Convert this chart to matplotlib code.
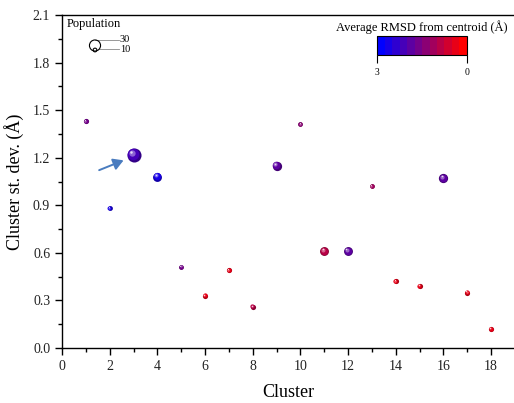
import numpy as np
import matplotlib
matplotlib.use("Agg")
import matplotlib.pyplot as plt
from matplotlib.colors import LinearSegmentedColormap, Normalize, to_rgb
from matplotlib.cm import ScalarMappable
from matplotlib.transforms import offset_copy

# ---- data ------------------------------------------------------------------
cluster = [1, 2, 3, 4, 5, 6, 7, 8, 9, 10, 11, 12, 13, 14, 15, 16, 17, 18]
stdev = [1.43, 0.88, 1.22, 1.08, 0.51, 0.33, 0.49, 0.26, 1.15, 1.41,
         0.61, 0.61, 1.02, 0.42, 0.39, 1.07, 0.35, 0.12]
population = [14, 13, 38, 24, 13, 14, 14, 14, 25, 13, 24, 24, 13, 14, 14, 25, 14, 14]
rmsd = [1.5, 2.7, 2.15, 2.6, 1.7, 0.3, 0.3, 0.9, 1.85, 1.45,
        0.8, 1.8, 1.1, 0.3, 0.4, 1.85, 0.3, 0.35]
legend_pop = [30, 10]

plt.rcParams.update({"font.family": ["Liberation Serif", "DejaVu Serif"]})

W, H = 514, 403
fig = plt.figure(figsize=(W / 100, H / 100), dpi=100)
ax = fig.add_axes([62 / W, 1 - 348 / H, 453 / W, 333 / H])

cmap = LinearSegmentedColormap.from_list("rb", ["#ff0000", "#0000ff"], N=12)
norm = Normalize(0, 3)

PX_PER_POP = 0.37   # bubble diameter (px) per population unit


def sphere(x, y, d_px, col):
    """Fake a shaded ball with a few stacked, offset discs."""
    d = d_px * 0.72
    c = np.array(to_rgb(col))
    layers = [(1.00, c * 0.72, 0.00, 0.00),
              (0.82, c, -0.06, 0.06),
              (0.45, c + (1 - c) * 0.38, -0.14, 0.14),
              (0.18, c + (1 - c) * 0.85, -0.19, 0.21)]
    for k, (f, cc, ox, oy) in enumerate(layers):
        tr = offset_copy(ax.transData, fig=fig, x=ox * d, y=oy * d, units="points")
        ax.scatter([x], [y], s=(d * f) ** 2, color=[np.clip(cc, 0, 1)],
                   lw=0, transform=tr, zorder=3 + k)


for x, y, p, r in zip(cluster, stdev, population, rmsd):
    sphere(x, y, p * PX_PER_POP, cmap(norm(r)))

# arrow pointing at cluster 3
ax.annotate("", xy=(2.69, 1.19), xytext=(1.45, 1.115),
            arrowprops=dict(arrowstyle="-|>,head_length=0.6,head_width=0.35",
                            color="#4a7cbf", lw=1.4), zorder=10)

ax.set_xlim(0, 19)
ax.set_ylim(0, 2.1)
ax.set_xticks(np.arange(0, 19, 2))
ax.set_xticks(np.arange(0, 19, 1), minor=True)
ax.set_yticks(np.arange(0, 2.11, 0.3))
ax.set_yticks(np.arange(0, 2.11, 0.15), minor=True)
ax.yaxis.set_major_formatter(plt.FormatStrFormatter("%.1f"))
ax.tick_params(which="major", direction="out", length=5, width=1, labelsize=10,
               labelcolor="#222222")
ax.tick_params(which="minor", direction="out", length=3, width=1)
for s in ax.spines.values():
    s.set_linewidth(1.0)
ax.spines["right"].set_visible(False)
ax.set_xlabel("Cluster", fontsize=13, labelpad=8)
ax.set_ylabel("Cluster st. dev. (Å)", fontsize=13, labelpad=6)


# ---- population legend ------------------------------------------------------
def axpos(px, py):
    return (px - 62) / 453, (348 - py) / 333


ax.text(*axpos(67, 24), "Population", transform=ax.transAxes, fontsize=9,
        ha="left", va="center")
for p, cy in zip(legend_pop, (45.5, 50.0)):
    d = p * PX_PER_POP * 0.72
    ax.scatter(*axpos(95, cy), s=d ** 2, facecolors="none", edgecolors="black",
               lw=0.8, transform=ax.transAxes, zorder=5, clip_on=False)
for (x0, y0), lab in [((95, 40), "30"), ((99, 49), "10")]:
    xa, ya = axpos(x0, y0)
    xb, _ = axpos(119, y0)
    ax.plot([xa, xb], [ya, ya], color="#888888", lw=0.6, transform=ax.transAxes)
    ax.text(*axpos(120, y0), lab, transform=ax.transAxes, fontsize=7.5,
            ha="left", va="center")

# ---- colour bar ------------------------------------------------------------
cax = fig.add_axes([377 / W, 1 - 55 / H, 90 / W, 19 / H])
cb = fig.colorbar(ScalarMappable(norm=norm, cmap=cmap), cax=cax, orientation="horizontal")
cax.invert_xaxis()
cb.set_ticks([3, 0])
cb.ax.tick_params(labelsize=7, length=6, width=0.8, direction="out")
cb.outline.set_linewidth(0.8)
fig.text(422 / W, 1 - 27 / H, "Average RMSD from centroid (Å)", fontsize=9,
         ha="center", va="center")

fig.savefig("out.png", dpi=100)
